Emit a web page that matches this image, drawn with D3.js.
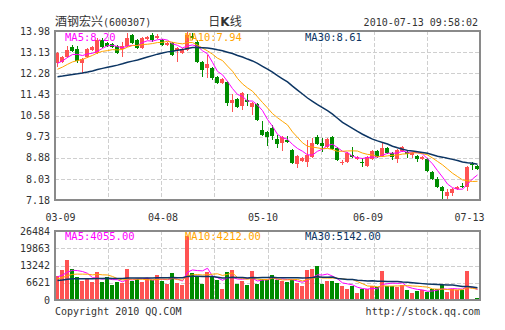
<!DOCTYPE html>
<html><head><meta charset="utf-8">
<script src="https://cdn.jsdelivr.net/npm/d3@7"></script>
<style>
body{margin:0;background:#fff;}
svg{display:block;}
text{font-family:"DejaVu Sans Mono","Liberation Mono",monospace;font-size:10px;fill:#333;}
</style>
</head><body>
<svg id="c" width="505" height="330"></svg>
<script>
// ---------- data ----------
const stockName = "酒钢宏兴";
const stockCode = "(600307)";
const chartName = ["日", "K", "线"];
const timestamp = "2010-07-13 09:58:02";
const copyright = "Copyright 2010 QQ.COM";
const siteUrl = "http://stock.qq.com";

const opens = [12.69,12.73,12.93,13.32,13.26,12.69,12.93,13.22,13.09,13.62,13.50,13.46,13.38,13.26,13.38,13.82,13.62,13.30,13.66,13.82,13.70,13.62,13.42,13.50,13.22,13.09,13.22,13.78,13.54,12.73,12.49,12.49,12.13,11.89,11.93,11.08,11.24,10.96,11.20,10.92,11.04,10.00,9.92,10.08,9.63,9.47,9.59,9.19,8.63,8.75,8.71,8.91,9.71,9.47,9.31,9.71,9.27,8.67,8.71,8.99,8.83,8.69,8.55,8.83,9.15,8.95,9.27,9.07,8.83,9.15,9.11,8.99,8.95,8.83,8.83,8.31,8.02,7.70,7.34,7.46,7.62,7.74,7.70,8.61,8.55];
const closes = [13.09,12.93,13.22,13.19,12.77,12.85,13.26,13.34,13.62,13.34,13.38,13.34,13.09,13.38,13.70,13.50,13.30,13.70,13.74,13.62,13.78,13.42,13.50,13.01,13.30,13.26,13.82,13.70,12.73,12.41,12.65,12.09,11.89,12.05,11.08,11.20,10.92,11.49,11.12,11.08,10.40,9.80,9.71,9.76,9.43,9.71,9.51,8.67,8.95,8.87,8.99,9.47,9.43,9.35,9.63,9.23,8.79,8.71,9.07,8.91,8.91,8.65,8.91,9.15,8.91,9.27,9.07,8.91,9.19,9.31,9.03,9.07,8.83,8.91,8.35,8.02,7.70,7.54,7.50,7.62,7.70,7.72,8.51,8.59,8.43];
const highs = [13.14,12.97,13.38,13.42,13.38,12.89,13.30,13.38,13.70,13.70,13.54,13.50,13.42,13.54,13.90,13.86,13.66,13.74,13.78,13.90,13.86,13.66,13.54,13.54,13.34,13.30,13.95,13.90,13.62,12.77,13.01,12.53,12.17,12.09,11.97,11.45,11.28,11.53,11.45,11.12,11.08,10.36,9.96,10.20,9.80,9.75,9.76,9.23,8.99,8.91,9.59,9.67,9.80,9.67,9.67,9.75,9.31,8.79,9.11,9.31,8.95,8.87,8.95,9.19,9.19,9.47,9.31,9.11,9.23,9.35,9.15,9.11,8.99,8.95,8.87,8.35,8.10,7.74,7.62,7.66,7.74,7.86,8.55,8.71,8.59];
const lows = [12.53,12.69,12.89,13.14,12.69,12.29,12.89,13.18,13.05,13.30,13.34,13.30,13.05,12.93,13.34,13.46,13.26,13.26,13.62,13.54,13.66,13.38,13.38,12.97,12.73,13.05,13.18,13.62,12.69,12.13,12.09,12.01,11.85,11.85,10.96,10.72,10.88,10.80,10.96,10.60,10.36,9.76,9.35,9.59,9.27,9.15,9.47,8.63,8.47,8.71,8.51,8.87,9.39,9.11,9.27,9.19,8.75,8.59,8.67,8.87,8.79,8.51,8.51,8.79,8.87,8.91,9.03,8.79,8.67,9.11,8.87,8.87,8.71,8.79,8.31,7.98,7.66,7.18,7.18,7.34,7.58,7.66,7.54,8.39,8.39];
const volumes = [9170,11470,15290,11850,8660,7390,8030,7010,10700,7010,8660,5730,6880,6630,11850,7390,7900,6880,8280,7640,9560,7260,6240,10450,6630,5730,24460,10450,9170,6120,10700,9170,7640,4200,10830,11470,6120,7260,5730,11210,6120,8030,7640,9560,7640,7390,7010,7640,6630,5350,11470,11850,13120,6120,7390,7390,6630,5350,4200,5480,2800,4200,4200,5480,4840,11210,5480,5480,4840,5730,3820,2550,3440,3820,3190,4300,4300,5800,3190,4300,3820,3820,11210,530,890];

// sessions before the visible window (needed for the moving averages at the left edge)
const prevCloses = [12.10,12.25,12.18,12.02,11.95,12.08,11.96,11.90,12.00,12.06,11.98,11.85,11.80,11.92,12.01,11.88,11.95,12.02,11.90,11.99,12.05,12.12,12.20,12.28,12.35,12.45,12.52,12.60,12.74];
const prevVolumes = [6800,7500,6200,8100,7400,6900,7700,6500,7200,8000,6600,7300,7900,6700,7100,7600,6400,7800,7000,7400,7100,7800,6900,7600,7600,8200,9500,8400,9230];

const tickIndex = [0, 21, 41, 62, 84];
const tickLabels = ["03-09", "04-08", "05-10", "06-09", "07-13"];
const priceTicks = [7.18, 8.03, 8.88, 9.73, 10.58, 11.43, 12.28, 13.13, 13.98];
const volumeTicks = [0, 6621, 13242, 19863, 26484];
const maPeriods = [5, 10, 30];
const priceMaLabels = ["MA5:8.20", "MA10:7.94", "MA30:8.61"];
const volumeMaLabels = ["MA5:4055.00", "MA10:4212.00", "MA30:5142.00"];

// ---------- style / layout ----------
const L = 55, R = 480;
const PT = 31, PB = 200;
const VT = 231, VB = 300;
const RED = "#ff5252", GREEN = "#008c00";
const maColors = ["#ff00ff", "#ffa500", "#0c3563"];
const maWidths = [1, 1, 1.5];
const GRID = "#cfcfcf";

const svg = d3.select("#c");
const n = closes.length;
const idx = d3.range(n);

const x = d3.scalePoint().domain(idx).range([L, R]).padding(0.5);
const step = x.step();
const bodyW = step - 1;
const yP = d3.scaleLinear().domain([priceTicks[0], priceTicks[priceTicks.length-1]]).range([PB, PT]);
const yV = d3.scaleLinear().domain([volumeTicks[0], volumeTicks[volumeTicks.length-1]]).range([VB, VT]);

function movingAvg(prev, vals, p) {
  const all = prev.concat(vals), off = prev.length;
  return vals.map((_, i) => d3.mean(all.slice(off + i - p + 1, off + i + 1)));
}

// clip paths
const defs = svg.append("defs");
defs.append("clipPath").attr("id", "cp").append("rect").attr("x", L).attr("y", PT).attr("width", R-L).attr("height", PB-PT);
defs.append("clipPath").attr("id", "cv").append("rect").attr("x", L).attr("y", VT).attr("width", R-L).attr("height", VB-VT);

// ---------- grids ----------
function grid(y0, y1, yTicks, yScale) {
  const g = svg.append("g").attr("stroke", GRID).attr("stroke-dasharray", "4,2").attr("stroke-width", 1);
  d3.range(1, 8).forEach(k => {
    const gx = Math.round(L + k * (R - L) / 8) + 0.5;
    g.append("line").attr("x1", gx).attr("x2", gx).attr("y1", y0).attr("y2", y1);
  });
  yTicks.slice(1, -1).forEach(t => {
    const gy = Math.round(yScale(t)) + 0.5;
    g.append("line").attr("x1", L).attr("x2", R).attr("y1", gy).attr("y2", gy);
  });
}
grid(PT, PB, priceTicks, yP);
grid(VT, VB, volumeTicks, yV);

// ---------- candles ----------
const up = i => closes[i] >= opens[i];
const cg = svg.append("g").attr("clip-path", "url(#cp)");
cg.selectAll("line.wick").data(idx).join("line")
  .attr("x1", i => Math.floor(x(i) - 0.5) + 0.5).attr("x2", i => Math.floor(x(i) - 0.5) + 0.5)
  .attr("y1", i => Math.round(yP(highs[i]))).attr("y2", i => Math.round(yP(lows[i])))
  .attr("stroke", i => up(i) ? RED : GREEN).attr("stroke-width", 1);
cg.selectAll("rect.body").data(idx).join("rect")
  .attr("x", i => Math.round(x(i) - step / 2))
  .attr("width", bodyW)
  .attr("y", i => Math.round(yP(Math.max(opens[i], closes[i]))))
  .attr("height", i => Math.max(1, Math.round(yP(Math.min(opens[i], closes[i]))) - Math.round(yP(Math.max(opens[i], closes[i])))))
  .attr("fill", i => up(i) ? RED : GREEN);

// price MAs
maPeriods.forEach((p, k) => {
  const ma = movingAvg(prevCloses, closes, p);
  cg.append("path").datum(idx)
    .attr("d", d3.line().x(i => x(i)).y(i => yP(ma[i])))
    .attr("fill", "none").attr("stroke", maColors[k]).attr("stroke-width", maWidths[k]);
});

// ---------- volume ----------
const vg = svg.append("g").attr("clip-path", "url(#cv)");
vg.selectAll("rect").data(idx).join("rect")
  .attr("x", i => Math.round(x(i) - step / 2))
  .attr("width", bodyW)
  .attr("y", i => Math.round(yV(volumes[i])))
  .attr("height", i => VB - Math.round(yV(volumes[i])))
  .attr("fill", i => up(i) ? RED : GREEN);
maPeriods.forEach((p, k) => {
  const ma = movingAvg(prevVolumes, volumes, p);
  vg.append("path").datum(idx)
    .attr("d", d3.line().x(i => x(i)).y(i => yV(ma[i])))
    .attr("fill", "none").attr("stroke", maColors[k]).attr("stroke-width", maWidths[k]);
});

// ---------- frames ----------
[[PT, PB], [VT, VB]].forEach(([a, b]) => {
  svg.append("rect").attr("x", L).attr("y", a).attr("width", R - L).attr("height", b - a)
    .attr("fill", "none").attr("stroke", "#8a8a8a").attr("stroke-width", 2);
});

// ---------- axes ----------
const ay = svg.append("g").attr("transform", `translate(${L},0)`)
  .call(d3.axisLeft(yP).tickValues(priceTicks).tickSize(0).tickPadding(5).tickFormat(d3.format(".2f")));
const av = svg.append("g").attr("transform", `translate(${L},0)`)
  .call(d3.axisLeft(yV).tickValues(volumeTicks).tickSize(0).tickPadding(5).tickFormat(d3.format("d")));
const ax = svg.append("g").attr("transform", `translate(0,${PB})`)
  .call(d3.axisBottom(x).tickValues(tickIndex).tickSize(0).tickPadding(13.5).tickFormat((d, j) => tickLabels[j]));
[ay, av, ax].forEach(g => {
  g.select(".domain").remove();
  g.selectAll("text").attr("font-family", null).attr("font-size", null).attr("fill", "#333");
});
// keep date labels inside the chart's span
ax.selectAll(".tick").each(function(d) {
  const t = d3.select(this).select("text");
  const w = t.node().getComputedTextLength();
  const cx = x(d);
  const nx = Math.max(L - 10 + w / 2, Math.min(R + 4 - w / 2, cx));
  t.attr("x", nx - cx);
});

// ---------- MA labels ----------
const labelX = [65, 185, 305];
priceMaLabels.forEach((s, k) => svg.append("text").attr("x", labelX[k]).attr("y", 40.5).style("fill", maColors[k]).style("font-size", "10.5px").text(s));
volumeMaLabels.forEach((s, k) => svg.append("text").attr("x", labelX[k]).attr("y", 240).style("fill", maColors[k]).style("font-size", "10.5px").text(s));

// ---------- header / footer ----------
const ttl = svg.append("text").attr("x", L).attr("y", 25.5);
ttl.append("tspan").style("font-family", "'Noto Sans CJK SC'").style("font-size", "12px").text(stockName);
ttl.append("tspan").text(stockCode);
const cn = svg.append("text").attr("x", 225).attr("y", 25.5).attr("text-anchor", "middle")
  .style("font-family", "'Noto Sans CJK SC'").style("font-size", "12px");
cn.append("tspan").text(chartName[0]);
cn.append("tspan").style("font-weight", "bold").style("font-family", "'DejaVu Sans'").text(chartName[1]);
cn.append("tspan").text(chartName[2]);
svg.append("text").attr("x", R - 2).attr("y", 26).attr("text-anchor", "end").text(timestamp);
svg.append("text").attr("x", L).attr("y", 315).text(copyright);
svg.append("text").attr("x", R).attr("y", 315).attr("text-anchor", "end").text(siteUrl);
</script>
</body></html>
